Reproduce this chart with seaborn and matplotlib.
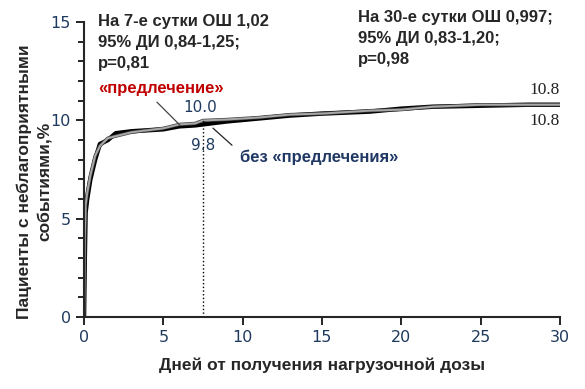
import matplotlib
matplotlib.use("Agg")
import matplotlib.pyplot as plt
import matplotlib.patheffects as pe
from matplotlib.ticker import MultipleLocator
import pandas as pd
import seaborn as sns

# days since loading dose
days = [0, 0.05, 0.1, 0.2, 0.4, 0.7, 1.0, 1.5, 2, 3, 4, 5, 6, 7, 7.5,
        9, 11, 13, 15, 18, 20, 22, 25, 28, 30]
# без «предлечения» (black)
no_pre = [0, 3.0, 5.3, 6.0, 7.0, 8.0, 8.8, 9.0, 9.35, 9.45, 9.5, 9.55, 9.7,
          9.75, 9.8, 9.95, 10.1, 10.25, 10.35, 10.45, 10.6, 10.7, 10.75, 10.8, 10.8]
# «предлечение» (gray)
pre = [0, 4.0, 5.7, 6.3, 7.2, 8.2, 8.7, 9.1, 9.2, 9.4, 9.5, 9.6, 9.8,
       9.85, 10.0, 10.05, 10.15, 10.3, 10.35, 10.5, 10.55, 10.7, 10.8, 10.8, 10.8]

df = pd.DataFrame({"day": days, "no_pre": no_pre, "pre": pre})

sns.set_style("ticks")
plt.rcParams["font.family"] = ["Liberation Sans", "DejaVu Sans"]

fig = plt.figure(figsize=(5.85, 3.89), dpi=100)
ax = fig.add_axes([0.1436, 0.185, 0.8134, 0.758])

sns.lineplot(data=df, x="day", y="no_pre", ax=ax, color="black", lw=3.2)
sns.lineplot(data=df, x="day", y="pre", ax=ax, color="#a8a8a8", lw=1.4,
             path_effects=[pe.Stroke(linewidth=2.4, foreground="#444444"), pe.Normal()])

ax.plot([7.5, 7.5], [0, 10.0], ls=":", color="black", lw=1)

ax.set_xlim(0, 30)
ax.set_ylim(0, 15)
ax.set_xticks([0, 5, 10, 15, 20, 25, 30])
ax.set_yticks([0, 5, 10, 15])
ax.yaxis.set_minor_locator(MultipleLocator(1))
sns.despine(ax=ax)
tick_col = "#1f3a5f"
ax.tick_params(axis="both", which="major", length=6, width=1.2, colors="black",
               labelcolor=tick_col, labelsize=11.5)
ax.tick_params(axis="y", which="minor", length=4, width=1.2, colors="black")
for lbl in ax.get_xticklabels() + ax.get_yticklabels():
    lbl.set_family("DejaVu Sans")
for s in ax.spines.values():
    s.set_linewidth(1.5)

ax.set_xlabel("Дней от получения нагрузочной дозы", fontsize=12.5, fontweight="bold",
              labelpad=9)
ax.set_ylabel("Пациенты с неблагоприятными\nсобытиями,%", fontsize=12.5,
              fontweight="bold", linespacing=1.35)
ax.yaxis.set_label_coords(-0.068, 0.46)

ax.text(0.88, 15.4, "На 7-е сутки ОШ 1,02\n95% ДИ 0,84-1,25;\np=0,81",
        fontsize=12, fontweight="bold", va="top", ha="left", linespacing=1.5,
        clip_on=False)
ax.text(17.27, 15.6, "На 30-е сутки ОШ 0,997;\n95% ДИ 0,83-1,20;\np=0,98",
        fontsize=12, fontweight="bold", va="top", ha="left", linespacing=1.5,
        clip_on=False)
ax.text(0.88, 11.64, "«предлечение»", color="#c00000", fontsize=12,
        fontweight="bold", va="center", ha="left")
ax.text(9.83, 8.13, "без «предлечения»", color="#1f3864", fontsize=12,
        fontweight="bold", va="center", ha="left")

ax.text(7.3, 10.68, "10.0", color=tick_col, fontsize=11, va="center", ha="center",
        family="DejaVu Sans")
ax.text(7.5, 8.74, "9.8", color=tick_col, fontsize=11, va="center", ha="center",
        family="DejaVu Sans")
ax.text(30, 11.54, "10.8", color="#222222", fontsize=12.5, va="center", ha="right",
        family="Liberation Serif")
ax.text(30, 9.96, "10.8", color="#222222", fontsize=12.5, va="center", ha="right",
        family="Liberation Serif")

ax.plot([4.6, 6.05], [10.93, 9.76], color="#444444", lw=0.9)
ax.plot([8.13, 9.33], [9.61, 8.74], color="#222222", lw=0.9)

fig.savefig("out.png", dpi=100)
